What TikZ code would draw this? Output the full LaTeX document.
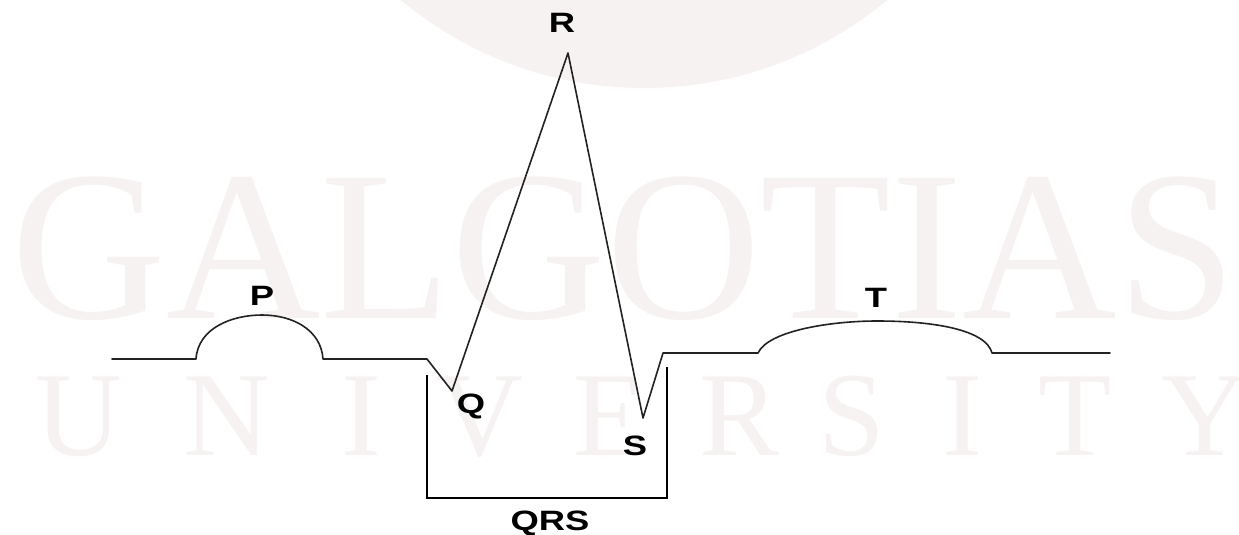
\documentclass[tikz,border=0pt]{standalone}
\usepackage{fontspec}
\usepackage{graphicx}
\setmainfont{Liberation Sans}
\newfontfamily\wmfont{Liberation Serif}
\definecolor{wmtext}{HTML}{F6F2F2}
\definecolor{wmdisc}{HTML}{F6F2F2}
\definecolor{waveink}{HTML}{222222}
\newcommand{\widelabel}[1]{\scalebox{1.3}[1]{#1}}
\begin{document}
\begin{tikzpicture}[x=1pt,y=-1pt,
  wave/.style={line width=1.6pt, draw=waveink, line join=round, line cap=round},
  bracket/.style={line width=2.8pt, draw=black, line join=miter},
  lbl/.style={inner sep=0pt, anchor=base, font=\fontsize{28}{28}\selectfont\bfseries},
  wmbig/.style={inner sep=0pt, anchor=base, text=wmtext, font=\wmfont\fontsize{214}{214}\selectfont},
  wmsmall/.style={inner sep=0pt, anchor=base, text=wmtext, font=\wmfont\fontsize{120}{120}\selectfont}]

% canvas
\fill[white] (0,0) rectangle (1239,535);
\useasboundingbox (0,0) rectangle (1239,535);

% background watermark
\begin{scope}
  \clip (0,0) rectangle (1239,535);
  \fill[wmdisc] (644,-292) circle (380);
\end{scope}
\node[wmbig] (wmtop) at (624,318) {GALGOTIAS};
\foreach \l/\x [count=\i] in {U/79, N/227, I/361, V/480, E/610, R/740, S/852, I/962, T/1075, Y/1205}
  \node[wmsmall] (wm\i) at (\x,455) {\l};

% waveform key points
\coordinate (start) at (112,359);
\coordinate (p0) at (196,359);
\coordinate (p1) at (323,359);
\coordinate (q0) at (427,359);
\coordinate (qpt) at (452,391);
\coordinate (rpt) at (568,53);
\coordinate (spt) at (643,418);
\coordinate (s1) at (663,353);
\coordinate (t0) at (758,353);
\coordinate (t1) at (992,353);
\coordinate (finish) at (1110,353);

% ECG trace
\draw[wave] (start) -- (p0)
  .. controls (198,328) and (232,315) .. (262,315)
  .. controls (293,315) and (321,330) .. (p1)
  -- (q0) -- (qpt) -- (rpt) -- (spt) -- (s1) -- (t0)
  .. controls (768,331) and (830,321) .. (877,321)
  .. controls (935,321) and (986,330) .. (t1)
  -- (finish);

% QRS interval bracket
\coordinate (bl) at (427,375);
\coordinate (br) at (667,367);
\draw[bracket] (bl) -- (427,498) -- (667,498) -- (br);

% wave labels
\node[lbl] (lblR) at (562,33) {\widelabel{R}};
\node[lbl] (lblP) at (262,305) {\widelabel{P}};
\node[lbl] (lblT) at (876,307) {\widelabel{T}};
\node[lbl] (lblQ) at (471,413) {\widelabel{Q}};
\node[lbl] (lblS) at (635,455) {\widelabel{S}};
\node[lbl] (lblQRS) at (550,530) {\widelabel{QRS}};
\end{tikzpicture}
\end{document}
